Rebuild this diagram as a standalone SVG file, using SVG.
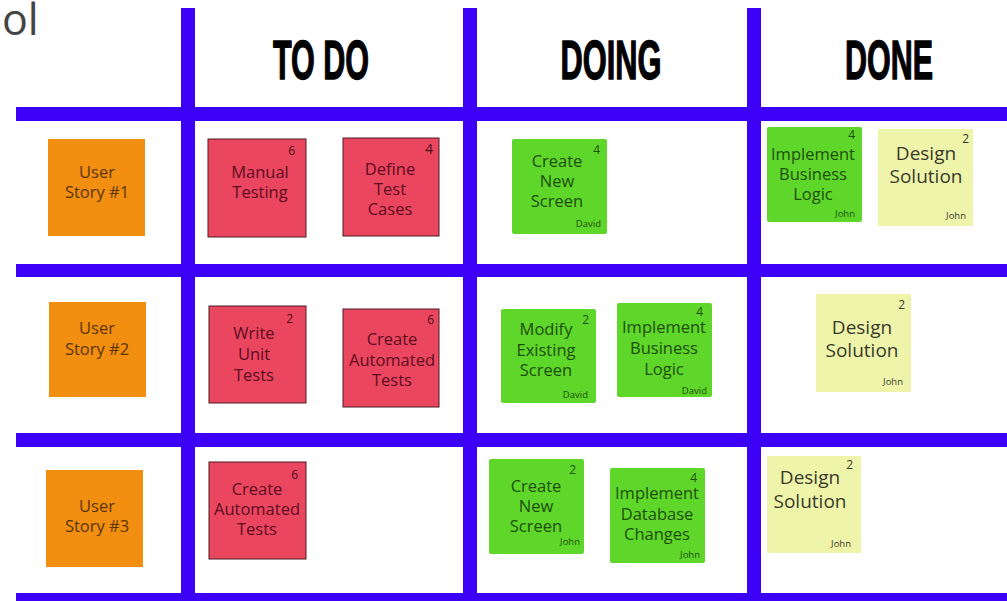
<svg xmlns="http://www.w3.org/2000/svg" width="1007" height="601" viewBox="0 0 1007 601">
<style>
.grid{fill:#3B00F5}
.hdr{font-family:"Liberation Sans",Arial,sans-serif;font-weight:bold;font-size:56px;fill:#000;stroke:#000;stroke-width:1.4;stroke-linejoin:round;text-anchor:middle}
.t{font-family:"Open Sans","Noto Sans",sans-serif;font-size:16.5px;text-anchor:middle}
.y .t{font-size:19px;fill:#3a3a2a}
.o rect{fill:#F28E10}
.o .t{fill:#5a3505}
.r rect{fill:#EA4660;stroke:#4a1a20;stroke-width:1}
.r .t{fill:#5e0c1e}
.g rect{fill:#5ED62A}
.g .t{fill:#1f4d0c}
.y rect{fill:#EEF4AA}
.n{font-family:"Open Sans","Noto Sans",sans-serif;font-size:12px;text-anchor:end}
.r .n{fill:#4a0a18}
.g .n{fill:#1f4d0c}
.y .n{fill:#3a3a2a}
.nm{font-family:"Open Sans","Noto Sans",sans-serif;font-size:9.5px;text-anchor:end}
.g .nm{fill:#1f4d0c}
.y .nm{fill:#3a3a2a}
</style>
<rect width="1007" height="601" fill="#fff"/>
<text x="2" y="35" font-family="Open Sans, Noto Sans, sans-serif" font-size="43" fill="#444">ol</text>
<g id="grid">
<rect class="grid" x="181" y="8" width="14" height="593"/>
<rect class="grid" x="463" y="8" width="14" height="593"/>
<rect class="grid" x="747" y="8" width="14" height="593"/>
<rect class="grid" x="16" y="107" width="991" height="14"/>
<rect class="grid" x="16" y="264" width="991" height="13"/>
<rect class="grid" x="16" y="433" width="991" height="14"/>
<rect class="grid" x="16" y="593" width="991" height="8"/>
</g>
<g id="headers">
<text class="hdr" x="321" y="79" textLength="96" lengthAdjust="spacingAndGlyphs">TO DO</text>
<text class="hdr" x="611" y="79" textLength="101" lengthAdjust="spacingAndGlyphs">DOING</text>
<text class="hdr" x="889" y="79" textLength="88" lengthAdjust="spacingAndGlyphs">DONE</text>
</g>
<g id="us1" class="o"><rect x="48" y="139" width="97" height="97"/><text class="t" x="97" y="178">User</text><text class="t" x="97" y="198">Story #1</text></g>
<g id="us2" class="o"><rect x="49" y="302" width="97" height="95"/><text class="t" x="97" y="334">User</text><text class="t" x="97" y="355">Story #2</text></g>
<g id="us3" class="o"><rect x="46" y="470" width="97" height="97"/><text class="t" x="97" y="512">User</text><text class="t" x="97" y="532">Story #3</text></g>

<g id="manual-testing" class="r"><rect x="208" y="139" width="98" height="98"/><text class="n" x="295" y="155">6</text><text class="t" x="260" y="178">Manual</text><text class="t" x="260" y="198">Testing</text></g>
<g id="define-test-cases" class="r"><rect x="343" y="138" width="96" height="98"/><text class="n" x="433" y="154" style="font-size:14px">4</text><text class="t" x="390" y="175">Define</text><text class="t" x="390" y="195">Test</text><text class="t" x="390" y="215">Cases</text></g>
<g id="write-unit-tests" class="r"><rect x="209" y="306" width="97" height="97"/><text class="n" x="293" y="323">2</text><text class="t" x="254" y="339">Write</text><text class="t" x="254" y="360">Unit</text><text class="t" x="254" y="381">Tests</text></g>
<g id="create-automated-tests-2" class="r"><rect x="343" y="309" width="96" height="98"/><text class="n" x="434" y="324">6</text><text class="t" x="392" y="345">Create</text><text class="t" x="392" y="366">Automated</text><text class="t" x="392" y="386">Tests</text></g>
<g id="create-automated-tests-3" class="r"><rect x="209" y="462" width="97" height="97"/><text class="n" x="298" y="479">6</text><text class="t" x="257" y="495">Create</text><text class="t" x="257" y="515">Automated</text><text class="t" x="257" y="535">Tests</text></g>

<g id="create-new-screen-1" class="g"><rect x="512" y="139" width="95" height="95" rx="2"/><text class="n" x="600" y="154">4</text><text class="t" x="557" y="167">Create</text><text class="t" x="557" y="187">New</text><text class="t" x="557" y="207">Screen</text><text class="nm" x="601" y="227">David</text></g>
<g id="modify-existing-screen" class="g"><rect x="501" y="309" width="95" height="94" rx="2"/><text class="n" x="589" y="324">2</text><text class="t" x="546" y="335">Modify</text><text class="t" x="546" y="356">Existing</text><text class="t" x="546" y="376">Screen</text><text class="nm" x="588" y="398">David</text></g>
<g id="implement-business-logic-2" class="g"><rect x="617" y="303" width="95" height="94" rx="2"/><text class="n" x="703" y="316">4</text><text class="t" x="664" y="333">Implement</text><text class="t" x="664" y="354">Business</text><text class="t" x="664" y="375">Logic</text><text class="nm" x="707" y="394">David</text></g>
<g id="create-new-screen-3" class="g"><rect x="489" y="459" width="95" height="95" rx="2"/><text class="n" x="576" y="474">2</text><text class="t" x="536" y="492">Create</text><text class="t" x="536" y="512">New</text><text class="t" x="536" y="532">Screen</text><text class="nm" x="580" y="545">John</text></g>
<g id="implement-database-changes" class="g"><rect x="610" y="468" width="95" height="95" rx="2"/><text class="n" x="697" y="482">4</text><text class="t" x="657" y="499">Implement</text><text class="t" x="657" y="520">Database</text><text class="t" x="657" y="540">Changes</text><text class="nm" x="700" y="558">John</text></g>

<g id="implement-business-logic-1" class="g"><rect x="767" y="127" width="95" height="95" rx="2"/><text class="n" x="855" y="139">4</text><text class="t" x="813" y="160">Implement</text><text class="t" x="813" y="180">Business</text><text class="t" x="813" y="200">Logic</text><text class="nm" x="855" y="217">John</text></g>
<g id="design-solution-1" class="y"><rect x="878" y="129" width="95" height="97"/><text class="n" x="969" y="143">2</text><text class="t" x="926" y="160">Design</text><text class="t" x="926" y="183">Solution</text><text class="nm" x="966" y="219">John</text></g>
<g id="design-solution-2" class="y"><rect x="816" y="294" width="95" height="98"/><text class="n" x="905" y="309">2</text><text class="t" x="862" y="334">Design</text><text class="t" x="862" y="357">Solution</text><text class="nm" x="903" y="385">John</text></g>
<g id="design-solution-3" class="y"><rect x="767" y="456" width="94" height="97"/><text class="n" x="853" y="469">2</text><text class="t" x="810" y="484">Design</text><text class="t" x="810" y="508">Solution</text><text class="nm" x="851" y="547">John</text></g>
</svg>
